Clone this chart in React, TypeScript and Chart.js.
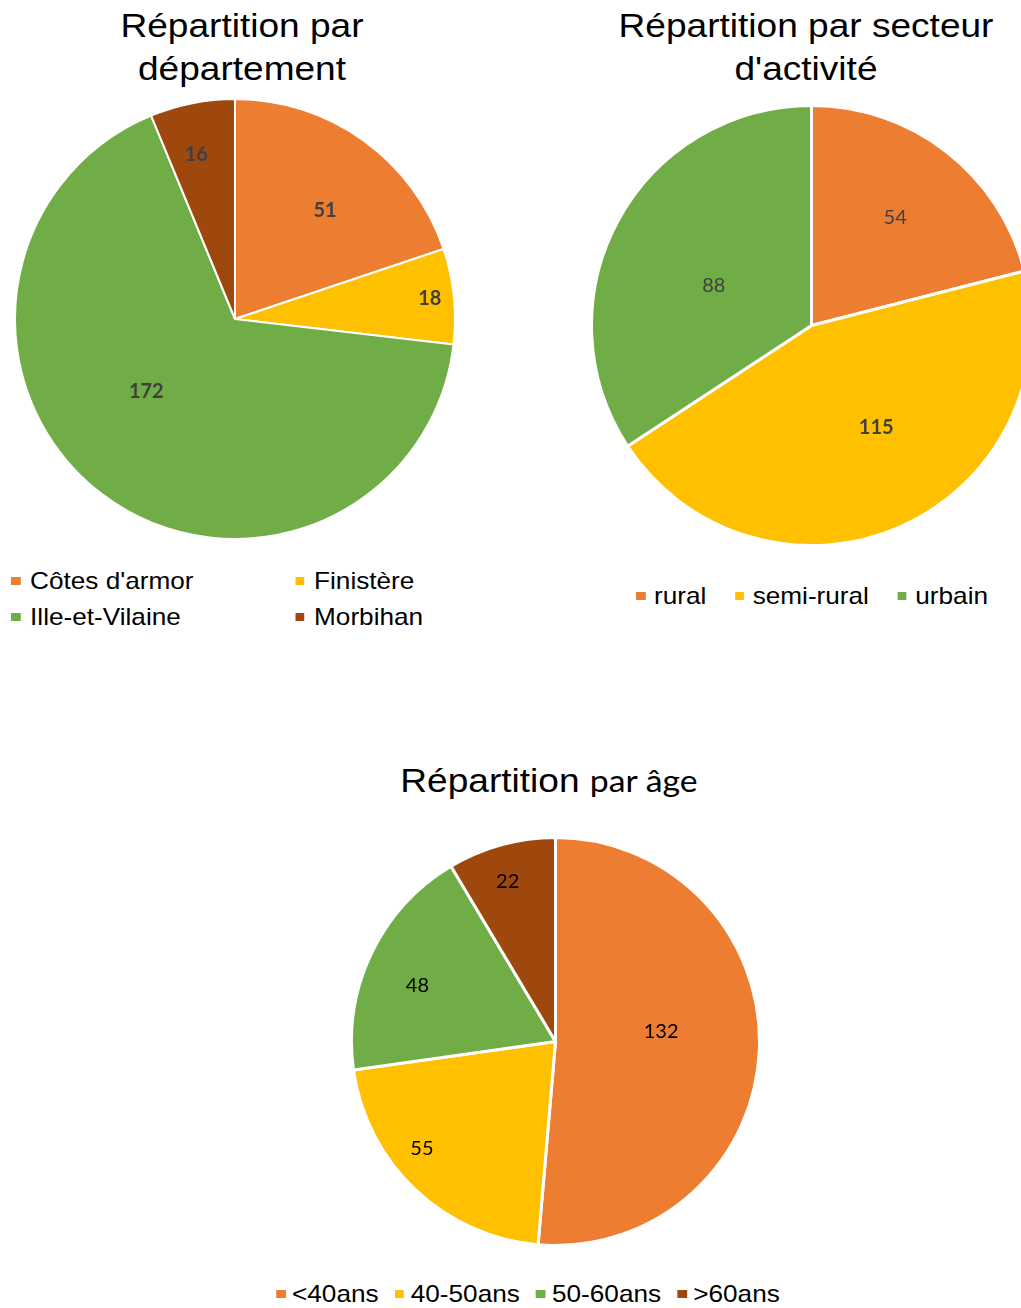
import React, { useEffect, useRef } from "react";
import { Chart, registerables } from "chart.js";

Chart.register(...registerables);

// ---------- data ----------
const deptLabels = ["Côtes d'armor", "Finistère", "Ille-et-Vilaine", "Morbihan"];
const deptValues = [51, 18, 172, 16];

const sectorLabels = ["rural", "semi-rural", "urbain"];
const sectorValues = [54, 115, 88];

const ageLabels = ["<40ans", "40-50ans", "50-60ans", ">60ans"];
const ageValues = [132, 55, 48, 22];

const deptColors = ["#ED7D31", "#FFC000", "#70AD47", "#9E480E"];
const sectorColors = ["#ED7D31", "#FFC000", "#70AD47"];
const ageColors = ["#ED7D31", "#FFC000", "#70AD47", "#9E480E"];

// ---------- label plugin ----------
const sliceLabels = {
  id: "sliceLabels",
  afterDatasetsDraw(chart: any, _args: any, opts: any) {
    const meta = chart.getDatasetMeta(0);
    const ds = chart.data.datasets[0];
    const ctx = chart.ctx;
    ctx.save();
    ctx.textAlign = "center";
    ctx.textBaseline = "middle";
    meta.data.forEach((arc: any, i: number) => {
      const p = arc.getProps(["x", "y", "startAngle", "endAngle", "outerRadius"], true);
      const mid = (p.startAngle + p.endAngle) / 2 + ((opts.angle?.[i] || 0) * Math.PI) / 180;
      const rr = p.outerRadius * (opts.radius?.[i] ?? 0.6);
      ctx.font = `${opts.weight?.[i] || "normal"} ${opts.size}px Lato, 'Open Sans', sans-serif`;
      ctx.fillStyle = opts.color;
      ctx.fillText(String(ds.data[i]), p.x + Math.cos(mid) * rr, p.y + Math.sin(mid) * rr);
    });
    ctx.restore();
  },
};

type PieProps = {
  labels: string[];
  values: number[];
  colors: string[];
  cx: number;
  cy: number;
  r: number;
  bw: number;
  labelOpts: any;
};

function Pie({ labels, values, colors, cx, cy, r, bw, labelOpts }: PieProps) {
  const ref = useRef<HTMLCanvasElement | null>(null);
  const size = 2 * r + bw;
  useEffect(() => {
    if (!ref.current) return;
    const chart = new Chart(ref.current, {
      type: "pie",
      data: {
        labels,
        datasets: [
          {
            data: values,
            backgroundColor: colors,
            borderColor: "#ffffff",
            borderWidth: bw,
            hoverBorderWidth: bw,
            hoverOffset: 0,
          },
        ],
      },
      options: {
        responsive: false,
        maintainAspectRatio: false,
        animation: false,
        layout: { padding: 0 },
        events: [],
        plugins: {
          legend: { display: false },
          title: { display: false },
          tooltip: { enabled: false },
          sliceLabels: labelOpts,
        } as any,
      },
      plugins: [sliceLabels],
    });
    return () => chart.destroy();
  }, []);
  return (
    <canvas
      ref={ref}
      width={size}
      height={size}
      style={{ position: "absolute", left: cx - size / 2, top: cy - size / 2, width: size, height: size }}
    />
  );
}

const SX = 1.09;

function LegendItem({ label, color, gap }: { label: string; color: string; gap: number }) {
  return (
    <span style={{ display: "inline-flex", alignItems: "center" }}>
      <span style={{ display: "inline-block", width: 8.5, height: 8.5, background: color, marginRight: gap }} />
      <span>{label}</span>
    </span>
  );
}

function RowLegend({
  labels,
  colors,
  cx,
  top,
  itemGap,
  boxGap,
}: {
  labels: string[];
  colors: string[];
  cx: number;
  top: number;
  itemGap: number;
  boxGap: number;
}) {
  return (
    <div
      style={{
        position: "absolute",
        left: cx,
        top,
        transform: `translateX(-50%) scaleX(${SX})`,
        transformOrigin: "center top",
        display: "flex",
        gap: itemGap,
        whiteSpace: "nowrap",
        fontSize: 24,
        lineHeight: "36px",
      }}
    >
      {labels.map((l, i) => (
        <LegendItem key={l} label={l} color={colors[i]} gap={boxGap} />
      ))}
    </div>
  );
}

export default function App() {
  useEffect(() => {
    document.body.style.margin = "0";
    document.body.style.overflow = "hidden";
  }, []);
  const titleStyle: React.CSSProperties = {
    position: "absolute",
    transform: `translateX(-50%) scaleX(${SX})`,
    transformOrigin: "center top",
    textAlign: "center",
    whiteSpace: "nowrap",
    fontSize: 34,
    lineHeight: "43px",
  };
  return (
    <div
      style={{
        position: "absolute",
        left: 0,
        top: 0,
        width: 1021,
        height: 1308,
        overflow: "hidden",
        background: "#ffffff",
        color: "#000000",
        fontFamily: "'Liberation Sans', Arial, sans-serif",
      }}
    >
      {/* Chart 1 */}
      <div style={{ ...titleStyle, left: 242, top: 4 }}>
        Répartition par
        <br />
        département
      </div>
      <Pie
        labels={deptLabels}
        values={deptValues}
        colors={deptColors}
        cx={235}
        cy={319}
        r={220}
        bw={2}
        labelOpts={{
          radius: [0.64, 0.89, 0.52, 0.77],
          angle: [4, 0, 13.7, -2],
          weight: ["bold", "bold", "bold", "bold"],
          size: 20,
          color: "#404040",
        }}
      />
      <div
        style={{
          position: "absolute",
          left: 11,
          top: 563,
          transform: `scaleX(${SX})`,
          transformOrigin: "left top",
          display: "grid",
          gridTemplateColumns: `${(295 - 11) / SX}px auto`,
          whiteSpace: "nowrap",
          fontSize: 24,
          lineHeight: "36px",
        }}
      >
        {deptLabels.map((l, i) => (
          <LegendItem key={l} label={l} color={deptColors[i]} gap={9} />
        ))}
      </div>

      {/* Chart 2 */}
      <div style={{ ...titleStyle, left: 806, top: 4 }}>
        Répartition par secteur
        <br />
        d'activité
      </div>
      <Pie
        labels={sectorLabels}
        values={sectorValues}
        colors={sectorColors}
        cx={811}
        cy={325}
        r={220}
        bw={3}
        labelOpts={{
          radius: [0.62, 0.55, 0.48],
          angle: [0, -8.5, -6],
          weight: ["normal", "bold", "normal"],
          size: 20,
          color: "#404040",
        }}
      />
      <RowLegend labels={sectorLabels} colors={sectorColors} cx={812} top={578} itemGap={26} boxGap={8} />

      {/* Chart 3 */}
      <div style={{ ...titleStyle, left: 549, top: 759 }}>
        Répartition{" "}
        <span style={{ fontFamily: "Lato, 'Open Sans', sans-serif", fontSize: 31 }}>par âge</span>
      </div>
      <Pie
        labels={ageLabels}
        values={ageValues}
        colors={ageColors}
        cx={555}
        cy={1041}
        r={204}
        bw={3}
        labelOpts={{
          radius: [0.52, 0.84, 0.73, 0.82],
          angle: [-7.9, 7.8, -3.6, -1.2],
          weight: ["normal", "normal", "normal", "normal"],
          size: 20,
          color: "#000000",
        }}
      />
      <RowLegend labels={ageLabels} colors={ageColors} cx={528} top={1276} itemGap={15} boxGap={6} />
    </div>
  );
}
